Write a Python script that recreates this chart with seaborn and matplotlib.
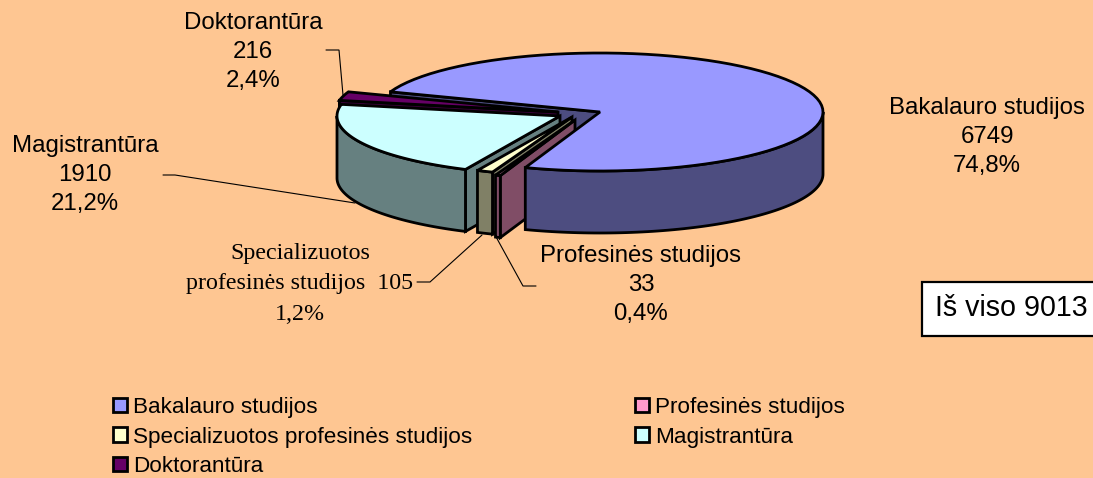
import numpy as np
import matplotlib
matplotlib.use('Agg')
import matplotlib.pyplot as plt
import seaborn as sns
from matplotlib.patches import Patch, Polygon, Rectangle

# values
categories = ['Bakalauro studijos', 'Profesinės studijos', 'Specializuotos profesinės studijos', 'Magistrantūra', 'Doktorantūra']
counts = [6749, 33, 105, 1910, 216]
percents = ['74,8%', '0,4%', '1,2%', '21,2%', '2,4%']
total_label = 'Iš viso 9013'

top_colors = ['#9999FF', '#FF99CC', '#FFFFCC', '#CCFFFF', '#660066']
wall_colors = ['#4D4D80', '#804D66', '#808066', '#668080', '#330033']
bg_color = '#FEC692'

# pie geometry in picture pixels
cx, cy = 600, 112
rx, ry = 223, 59
depth = 62
start_angle = 160
# how far each slice is pulled out of the pie
shifts = [(0, 0), (-25, 8), (-28, 5), (-40, 4), (-42, 0)]

sns.set_theme(style='white')
plt.rcParams['font.family'] = ['Liberation Sans', 'DejaVu Sans']

fig = plt.figure(figsize=(10.93, 4.78), dpi=100, facecolor=bg_color)
ax = fig.add_axes([0, 0, 1, 1])
ax.set_xlim(0, 1093)
ax.set_ylim(478, 0)
ax.axis('off')

# slices run clockwise from the start angle
sweeps = np.array(counts) / sum(counts) * 360
ends = start_angle - np.cumsum(sweeps)
starts = ends + sweeps
ends = ends % 360
starts = starts % 360
starts = np.where(starts <= ends, starts + 360, starts)


def point(angle, shift):
    a = np.radians(angle)
    return cx + shift[0] + rx * np.cos(a), cy + shift[1] - ry * np.sin(a)


def arc(a1, a2, shift):
    angles = np.linspace(a1, a2, 80)
    return [point(a, shift) for a in angles]


def add_poly(pts, color):
    ax.add_patch(Polygon(pts, closed=True, facecolor=color, edgecolor='black', linewidth=2, joinstyle='miter'))


def draw_cut_wall(i):
    # flat wall under the counter-clockwise edge of the slice
    sh = shifts[i]
    x0, y0 = cx + sh[0], cy + sh[1]
    x1, y1 = point(starts[i], sh)
    add_poly([(x1, y1), (x0, y0), (x0, y0 + depth), (x1, y1 + depth)], wall_colors[i])


def draw_round_wall(i):
    # only the part of the rim facing the viewer
    lo = max(ends[i], 180)
    hi = min(starts[i], 360)
    if hi > lo:
        rim = arc(lo, hi, shifts[i])
        low = [(x, y + depth) for x, y in rim][::-1]
        add_poly(rim + low, wall_colors[i])


def draw_top(i):
    sh = shifts[i]
    add_poly([(cx + sh[0], cy + sh[1])] + arc(ends[i], starts[i], sh), top_colors[i])


# back wall of the big slice first, the pulled slices over it, the big slice last
draw_cut_wall(0)
for i in [4, 3, 2, 1]:
    draw_cut_wall(i)
    draw_round_wall(i)
    draw_top(i)
draw_round_wall(0)
draw_top(0)

# data labels
label_font = dict(ha='center', va='center', fontsize=17.3, color='black', linespacing=1.41)
ax.text(987, 137, f'{categories[0]}\n{counts[0]}\n{percents[0]}', **label_font)
ax.text(641, 285, f'{categories[1]}\n{counts[1]}\n{percents[1]}', **label_font)
ax.text(85, 175, f'{categories[3]}\n{counts[3]}\n{percents[3]}', **label_font)
ax.text(253, 52, f'{categories[4]}\n{counts[4]}\n{percents[4]}', **label_font)
ax.text(300, 284, f'Specializuotos\nprofesinės studijos  {counts[2]}\n{percents[2]}', ha='center', va='center',
        fontsize=17.3, color='black', linespacing=1.57, family=['Liberation Serif', 'DejaVu Serif'])

# leader lines
leaders = [
    ([326, 339, 343], [50, 50, 95]),
    ([163, 175, 355], [175, 175, 203]),
    ([417, 430, 482], [282, 282, 235]),
    ([536, 523, 495], [286, 286, 235]),
]
for xs, ys in leaders:
    ax.plot(xs, ys, color='black', lw=0.8, solid_joinstyle='miter')

# total box
ax.add_patch(Rectangle((922, 282), 180, 54, facecolor='white', edgecolor='black', lw=1.6))
ax.text(935, 308, total_label, ha='left', va='center', fontsize=20.6, color='black')

# legend, filled column by column
order = [0, 2, 4, 1, 3]
handles = [Patch(facecolor=top_colors[i], edgecolor='black', linewidth=2) for i in order]
ax.legend(handles, [categories[i] for i in order], ncol=2, loc='upper left', bbox_to_anchor=(113, 397),
          bbox_transform=ax.transData, frameon=False, fontsize=16.2, labelcolor='black', handlelength=0.6,
          handleheight=0.6, handletextpad=0.29, labelspacing=0.38, columnspacing=7.25, borderpad=0, borderaxespad=0)

fig.savefig('out.png', dpi=100, facecolor=bg_color)
